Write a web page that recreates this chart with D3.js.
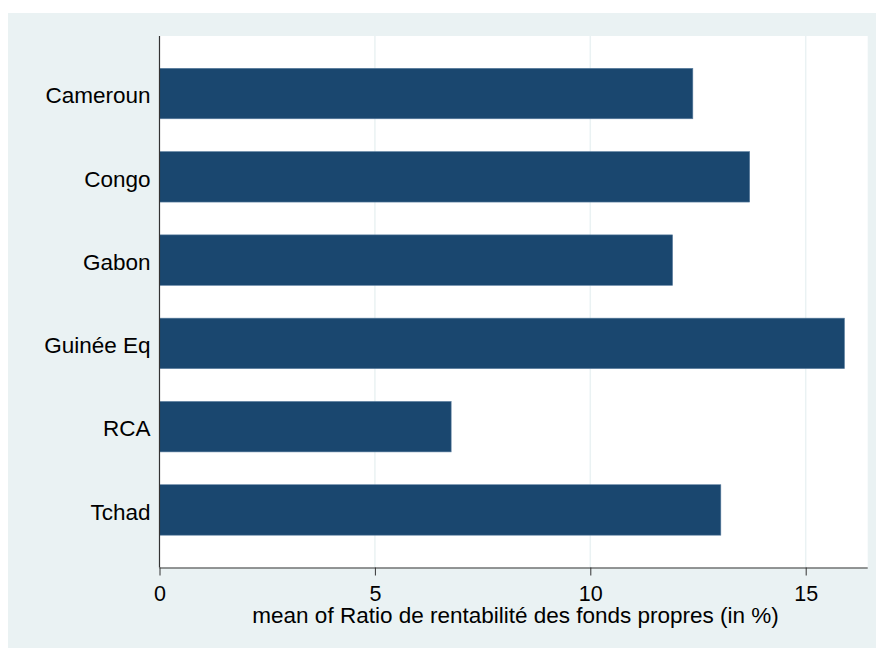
<!DOCTYPE html>
<html>
<head>
<meta charset="utf-8">
<script src="https://cdn.jsdelivr.net/npm/d3@7"></script>
<style>
  html, body { margin: 0; padding: 0; background: #ffffff; }
  svg { display: block; }
  text { font-family: "Liberation Sans", Arial, sans-serif; fill: #000; }
</style>
</head>
<body>
<svg id="chart" width="876" height="648"></svg>
<script>
const categories = ["Cameroun", "Congo", "Gabon", "Guinée Eq", "RCA", "Tchad"];
const values = [12.38, 13.70, 11.91, 15.90, 6.77, 13.03];
const xTicks = [0, 5, 10, 15];
const xTitle = "mean of Ratio de rentabilité des fonds propres (in %)";

(function () {
const svg = d3.select("#chart");
const W = 876, H = 648;
const FONT = '"Liberation Sans", Arial, sans-serif';

// outer background
svg.append("rect").attr("x", 8).attr("y", 13).attr("width", W - 8).attr("height", H - 13)
  .attr("fill", "#eaf2f3");

const pLeft = 159.5, pRight = 867.7, pTop = 36, pBottom = 567.5;

svg.append("rect").attr("x", pLeft).attr("y", pTop).attr("width", pRight - pLeft).attr("height", pBottom - pTop)
  .attr("fill", "#ffffff");

const x = d3.scaleLinear().domain([0, (pRight - pLeft) / 43.08]).range([pLeft, pRight]);
const y = d3.scaleBand().domain(categories).range([pTop, pBottom]).paddingInner(0.394).paddingOuter(0.388);

// gridlines
svg.append("g").selectAll("line").data(xTicks.filter(d => d > 0)).join("line")
  .attr("x1", d => x(d)).attr("x2", d => x(d))
  .attr("y1", pTop).attr("y2", pBottom)
  .attr("stroke", "#eaf2f3").attr("stroke-width", 1.5);

// bars
svg.append("g").selectAll("rect").data(categories).join("rect")
  .attr("x", x(0))
  .attr("y", d => y(d))
  .attr("width", (d, i) => x(values[i]) - x(0))
  .attr("height", y.bandwidth())
  .attr("fill", "#1a476f")
  .attr("stroke", "#5d7fa0").attr("stroke-width", 0.6);

// x axis
const xAxis = d3.axisBottom(x).tickValues(xTicks).tickSize(8).tickPadding(10).tickFormat(d3.format("d"));
const gx = svg.append("g").attr("transform", `translate(0,${pBottom})`).call(xAxis);
gx.select(".domain").attr("d", `M${pLeft},0.5H${pRight}`).attr("stroke", "#333").attr("stroke-width", 1.2);
gx.selectAll(".tick line").attr("stroke", "#333").attr("stroke-width", 1);
gx.selectAll(".tick text").attr("font-size", 21.5).attr("font-family", FONT).attr("fill", "#000");

// y axis
const yAxis = d3.axisLeft(y).tickSize(0).tickPadding(9);
const gy = svg.append("g").attr("transform", `translate(${pLeft},0)`).call(yAxis);
gy.select(".domain").attr("d", `M0,${pTop}V${pBottom}`).attr("stroke", "#333").attr("stroke-width", 1.2);
gy.selectAll(".tick text").attr("font-size", 22.5).attr("font-family", FONT)
  .attr("fill", "#000").attr("dy", "0.43em");

// x title
svg.append("text").attr("x", (pLeft + pRight) / 2 + 2).attr("y", 623)
  .attr("text-anchor", "middle").attr("font-size", 22.5).attr("font-family", FONT).text(xTitle);
})();
</script>
</body>
</html>
